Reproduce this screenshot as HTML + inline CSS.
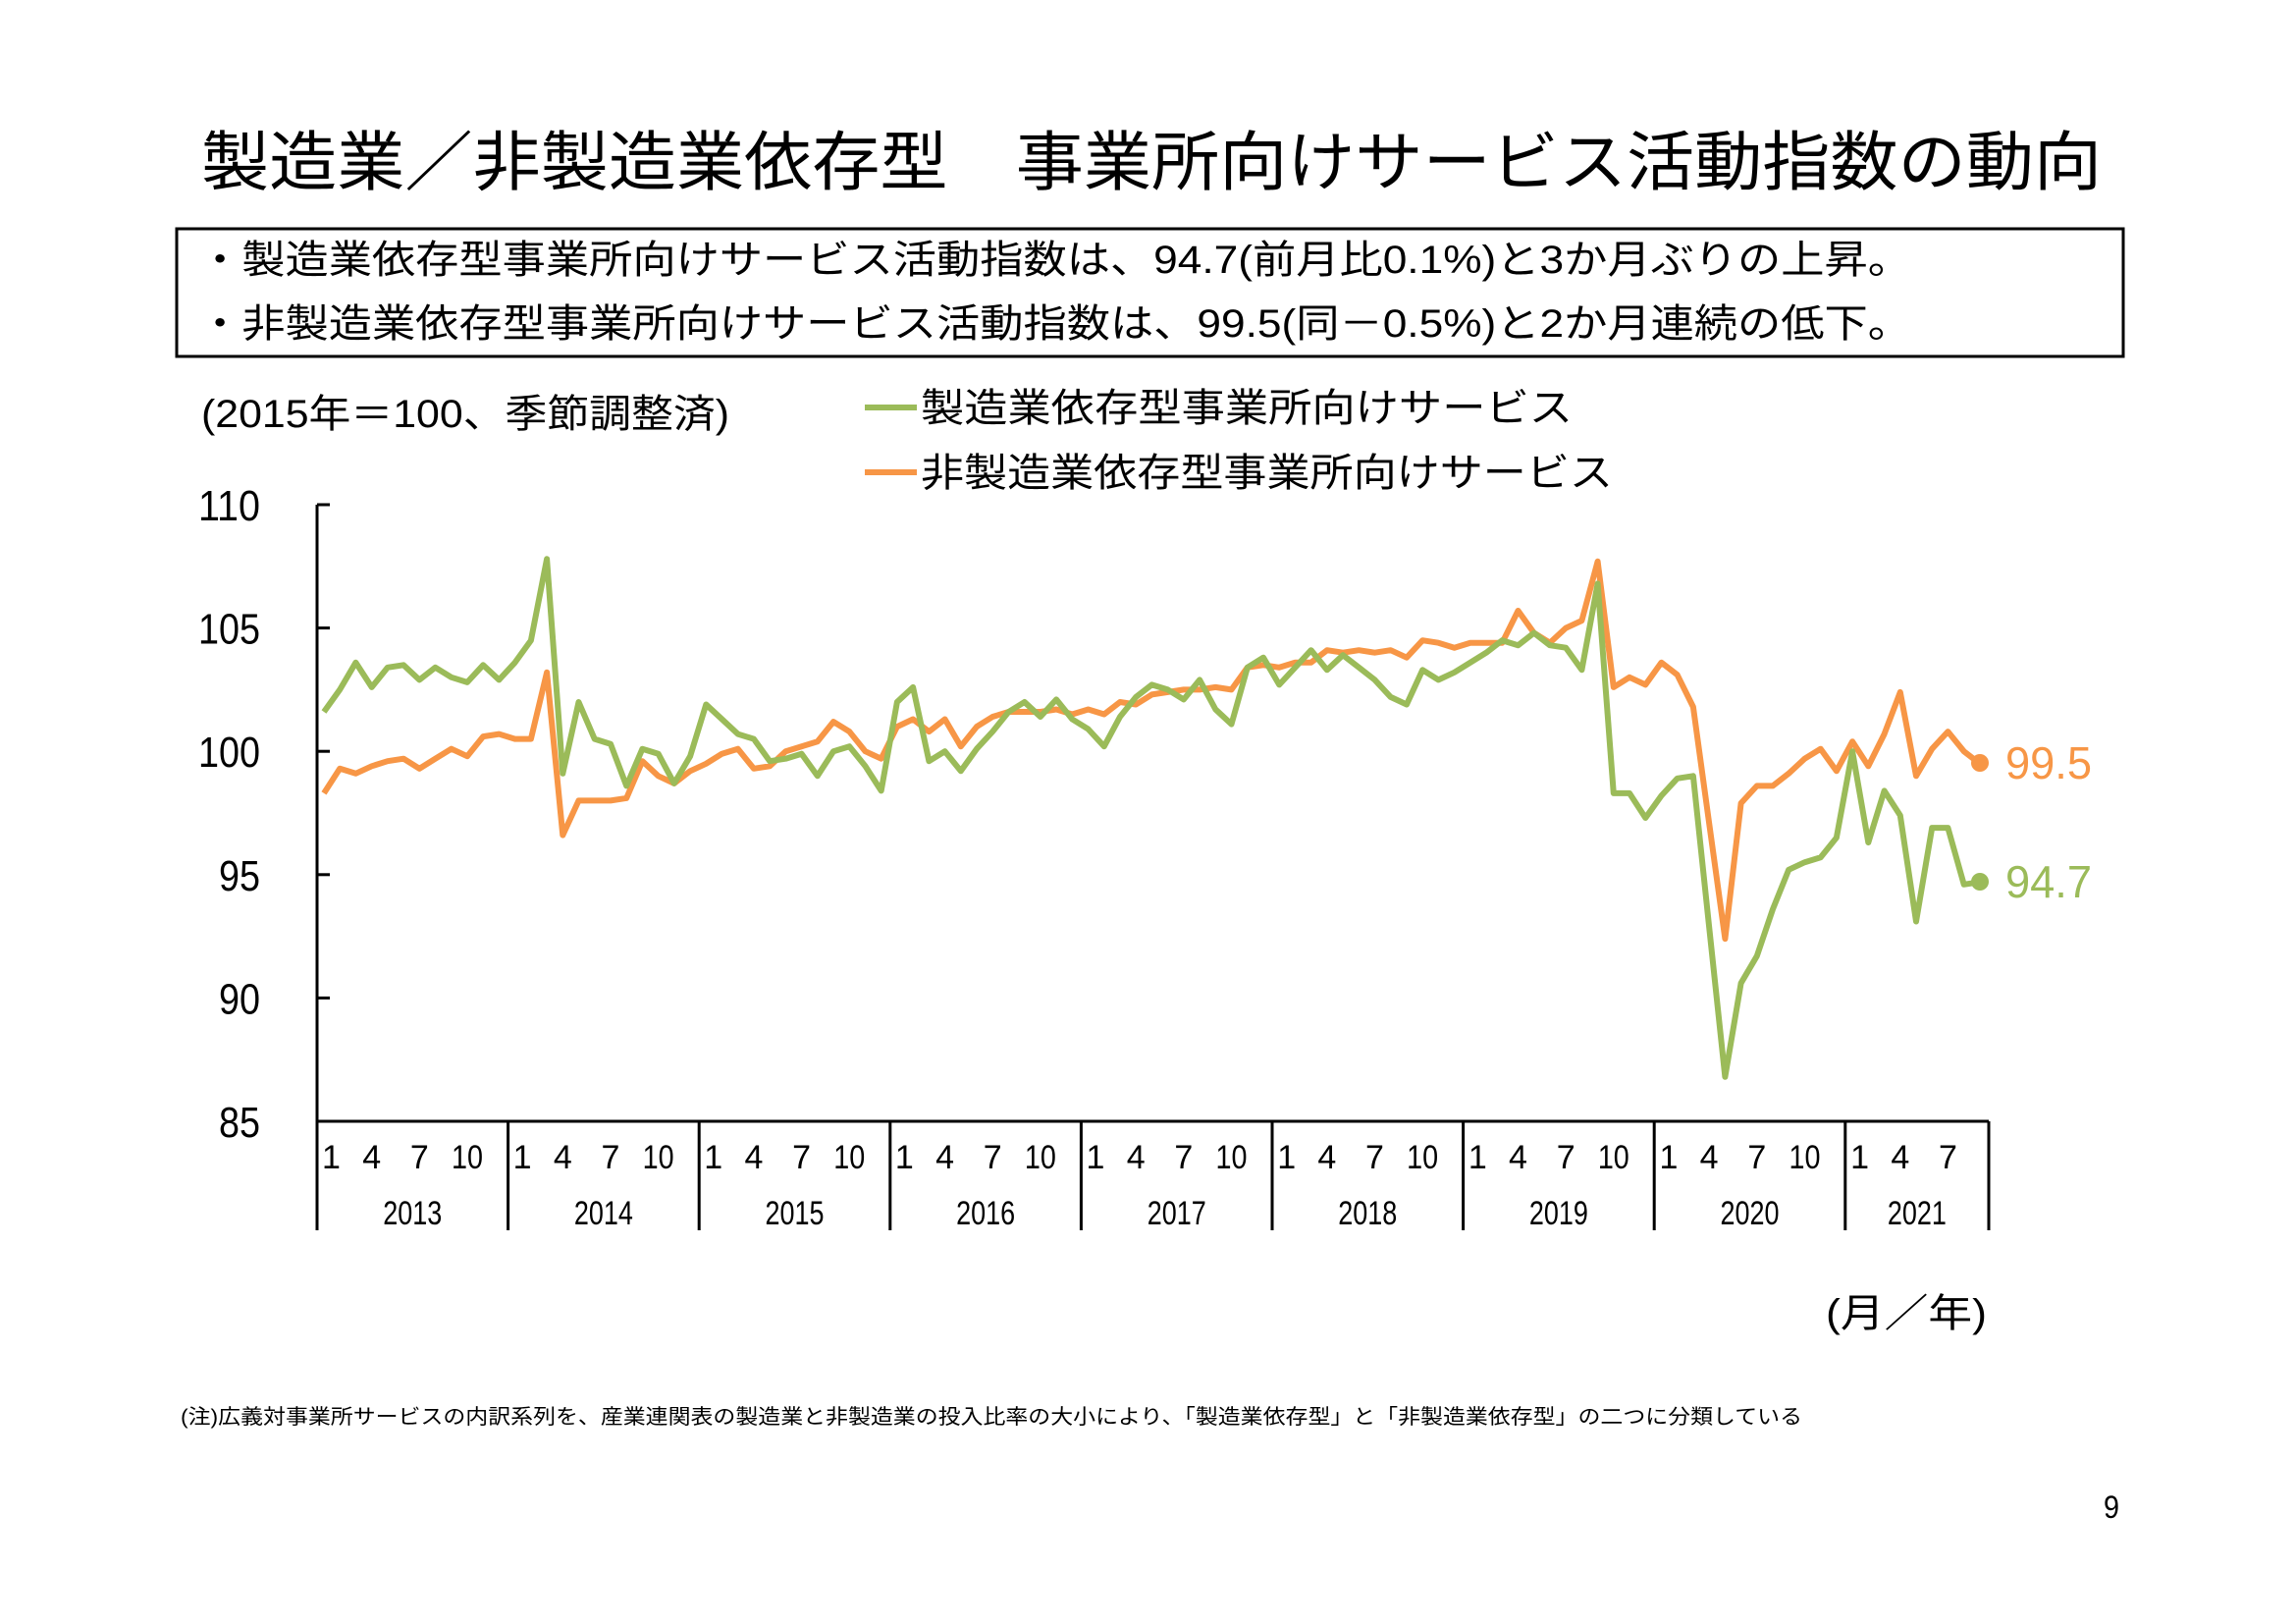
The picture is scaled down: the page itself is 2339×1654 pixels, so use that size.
<!DOCTYPE html>
<html><head><meta charset="utf-8"><style>
html,body{margin:0;padding:0;background:#fff;}
svg{display:block;}
text{font-family:"Liberation Sans","Noto Sans CJK JP",sans-serif;}
</style></head><body>
<svg id="s" width="2339" height="1654" viewBox="0 0 2339 1654" xmlns="http://www.w3.org/2000/svg">
<rect width="2339" height="1654" fill="#fff"/>
<text x="205" y="188" font-size="66" textLength="1936" lengthAdjust="spacingAndGlyphs">製造業／非製造業依存型　事業所向けサービス活動指数の動向</text>
<rect x="180" y="233" width="1983" height="130" fill="none" stroke="#000" stroke-width="3"/>
<text x="202" y="278" font-size="40" textLength="1745" lengthAdjust="spacingAndGlyphs">・製造業依存型事業所向けサービス活動指数は、94.7(前月比0.1%)と3か月ぶりの上昇。</text>
<text x="202" y="343" font-size="40" textLength="1745" lengthAdjust="spacingAndGlyphs">・非製造業依存型事業所向けサービス活動指数は、99.5(同－0.5%)と2か月連続の低下。</text>
<text x="205" y="435" font-size="40" textLength="538" lengthAdjust="spacingAndGlyphs">(2015年＝100、季節調整済)</text>
<line x1="881" y1="415" x2="934" y2="415" stroke="#9BBB59" stroke-width="6"/>
<line x1="881" y1="481" x2="934" y2="481" stroke="#F79646" stroke-width="6"/>
<text x="938" y="429" font-size="40" textLength="664" lengthAdjust="spacingAndGlyphs">製造業依存型事業所向けサービス</text>
<text x="938" y="495" font-size="40" textLength="705" lengthAdjust="spacingAndGlyphs">非製造業依存型事業所向けサービス</text>
<g id="ax" stroke="#000" stroke-width="3" fill="none"></g>
<g id="lab" font-size="44" text-anchor="end"></g>
<polyline id="o" fill="none" stroke="#F79646" stroke-width="6" stroke-linejoin="round"/>
<polyline id="g" fill="none" stroke="#9BBB59" stroke-width="6" stroke-linejoin="round"/>
<circle cx="2017" cy="777" r="9" fill="#F79646"/>
<circle cx="2017" cy="898" r="9" fill="#9BBB59"/>
<text x="2043" y="793" font-size="46" fill="#F79646" textLength="88" lengthAdjust="spacingAndGlyphs">99.5</text>
<text x="2043" y="914" font-size="46" fill="#9BBB59" textLength="88" lengthAdjust="spacingAndGlyphs">94.7</text>
<text x="1860" y="1351" font-size="40" textLength="164" lengthAdjust="spacingAndGlyphs">(月／年)</text>
<text x="184" y="1450" font-size="21" textLength="1652" lengthAdjust="spacingAndGlyphs">(注)広義対事業所サービスの内訳系列を、産業連関表の製造業と非製造業の投入比率の大小により、「製造業依存型」と「非製造業依存型」の二つに分類している</text>
<text x="2143" y="1546" font-size="32" textLength="16" lengthAdjust="spacingAndGlyphs">9</text>
</svg>
<script>
var G=[101.6,102.5,103.6,102.6,103.4,103.5,102.9,103.4,103.0,102.8,103.5,102.9,
103.6,104.5,107.8,99.1,102.0,100.5,100.3,98.6,100.1,99.9,98.7,99.8,
101.9,101.3,100.7,100.5,99.6,99.7,99.9,99.0,100.0,100.2,99.4,98.4,
102.0,102.6,99.6,100.0,99.2,100.1,100.8,101.6,102.0,101.4,102.1,101.3,
100.9,100.2,101.4,102.2,102.7,102.5,102.1,102.9,101.7,101.1,103.4,103.8,
102.7,103.4,104.1,103.3,103.9,103.4,102.9,102.2,101.9,103.3,102.9,103.2,
103.6,104.0,104.5,104.3,104.8,104.3,104.2,103.3,106.8,98.3,98.3,97.3,
98.2,98.9,99.0,92.9,86.8,90.6,91.7,93.6,95.2,95.5,95.7,96.5,
100.0,96.3,98.4,97.4,93.1,96.9,96.9,94.6,94.7];
var O=[98.3,99.3,99.1,99.4,99.6,99.7,99.3,99.7,100.1,99.8,100.6,100.7,
100.5,100.5,103.2,96.6,98.0,98.0,98.0,98.1,99.6,99.0,98.7,99.2,
99.5,99.9,100.1,99.3,99.4,100.0,100.2,100.4,101.2,100.8,100.0,99.7,
101.0,101.3,100.8,101.3,100.2,101.0,101.4,101.6,101.6,101.6,101.7,101.5,
101.7,101.5,102.0,101.9,102.3,102.4,102.5,102.5,102.6,102.5,103.4,103.5,
103.4,103.6,103.6,104.1,104.0,104.1,104.0,104.1,103.8,104.5,104.4,104.2,
104.4,104.4,104.4,105.7,104.8,104.4,105.0,105.3,107.7,102.6,103.0,102.7,
103.6,103.1,101.8,97.1,92.4,97.9,98.6,98.6,99.1,99.7,100.1,99.2,
100.4,99.4,100.7,102.4,99.0,100.1,100.8,100.0,99.5];
function X(i){return 330+i*16.22;}
function Y(v){return 1142-(v-85)*25.12;}
function pts(a){return a.map(function(v,i){return X(i).toFixed(1)+","+Y(v).toFixed(1)}).join(" ");}
document.getElementById("g").setAttribute("points",pts(G));
document.getElementById("o").setAttribute("points",pts(O));
var NS="http://www.w3.org/2000/svg",ax=document.getElementById("ax"),lab=document.getElementById("lab");
function L(x1,y1,x2,y2){var l=document.createElementNS(NS,"line");l.setAttribute("x1",x1);l.setAttribute("y1",y1);l.setAttribute("x2",x2);l.setAttribute("y2",y2);ax.appendChild(l);}
function T(x,y,s,sz,anc,len){var t=document.createElementNS(NS,"text");t.setAttribute("x",x);t.setAttribute("y",y);t.setAttribute("font-size",sz);t.setAttribute("text-anchor",anc);if(len){t.setAttribute("textLength",len);t.setAttribute("lengthAdjust","spacingAndGlyphs");}t.textContent=s;lab.appendChild(t);}
L(323,514,323,1253);L(323,1142,2026,1142);
for(var k=0;k<6;k++){var v=85+k*5,y=Y(v);if(k>0)L(323,y,336,y);T(265,y+16,String(v),44,"end",v>=100?63:42);}
for(var yr=0;yr<9;yr++){var x0=323+yr*194.6;L(x0,1142,x0,1253);
 var ms=yr<8?[1,4,7,10]:[1,4,7];
 ms.forEach(function(m){var xi=X(yr*12+m-1);T(m==1?xi-2:xi,1190,String(m),34,m==1?"start":"middle",m==10?32:0);});
 var end=yr<8?x0+194.6:2026;T((x0+end)/2,1247,String(2013+yr),34,"middle",60);}
L(2026,1142,2026,1253);
</script>
</body></html>
